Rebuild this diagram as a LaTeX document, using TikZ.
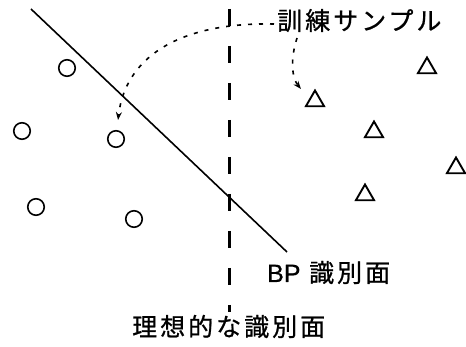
\documentclass[tikz,border=0pt]{standalone}
\usepackage{fontspec}
\setmainfont{Noto Sans CJK JP}[LetterSpace=12,FakeBold=0.8]
\newfontfamily\latinfont{Liberation Sans}[FakeBold=0.5]
\usetikzlibrary{arrows.meta,shapes.geometric}
\tikzset{
  circ/.style={circle, draw, line width=1.6pt, minimum size=16.5pt, inner sep=0pt},
  tri/.style={regular polygon, regular polygon sides=3, draw, line width=1.9pt, minimum size=21pt, inner sep=0pt},
  lbl/.style={font=\fontsize{25}{25}\selectfont, inner sep=0pt, anchor=base west},
  bnd/.style={line width=1.6pt},
  ideal/.style={line width=3pt, dash pattern=on 17pt off 20pt},
  ptr/.style={line width=1.6pt, dash pattern=on 4pt off 7pt, -{Stealth[length=8pt,width=6pt]}}
}
\begin{document}
\begin{tikzpicture}[x=1pt,y=-1pt]
\useasboundingbox (0,0) rectangle (466,347);
% circles
\node[circ] (c1) at (67,68) {};
\node[circ] (c2) at (22,131) {};
\node[circ] (c3) at (116,139) {};
\node[circ] (c4) at (36,207) {};
\node[circ] (c5) at (134,219) {};
% triangles
\node[tri] (t1) at (427,68) {};
\node[tri] (t2) at (315,101) {};
\node[tri] (t3) at (374,132) {};
\node[tri] (t4) at (456,168) {};
\node[tri] (t5) at (365,195) {};
% boundaries
\coordinate (b1) at (31,9);
\coordinate (b2) at (287,252);
\draw[bnd] (b1) -- (b2);
\coordinate (i1) at (229,9);
\coordinate (i2) at (229,312);
\draw[ideal] (i1) -- (i2);
% labels
\node[lbl] (ts) at (277,30) {訓練サンプル};
\node[lbl] (bp) at (267,282) {{\latinfont\fontsize{25}{25}\selectfont BP} 識別面};
\node[lbl] (id) at (132,336) {理想的な識別面};
% pointers
\coordinate (s1) at (274,24);
\coordinate (e1) at (118,120);
\coordinate (s2) at (297,38);
\coordinate (e2) at (301,89);
\draw[ptr] (s1) .. controls (175,22) and (125,60) .. (e1);
\draw[ptr] (s2) .. controls (290,60) and (292,78) .. (e2);
\end{tikzpicture}
\end{document}
